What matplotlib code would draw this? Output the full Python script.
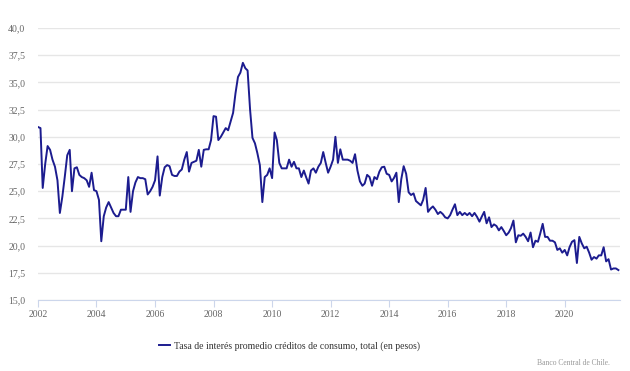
import matplotlib
matplotlib.use('Agg')
import matplotlib.pyplot as plt
import matplotlib.dates as mdates
from matplotlib.ticker import FuncFormatter
import pandas as pd

# valores mensuales, por año (ene..dic)
y2002 = [30.9, 30.8, 25.3, 27.5, 29.15, 28.8, 27.9, 27.25, 26.0, 23.0, 24.5, 26.3]
y2003 = [28.3, 28.8, 25.0, 27.1, 27.2, 26.5, 26.3, 26.2, 26.0, 25.4, 26.7, 25.1]
y2004 = [25.0, 24.2, 20.4, 22.7, 23.5, 24.0, 23.5, 23.0, 22.7, 22.7, 23.3, 23.3]
y2005 = [23.3, 26.3, 23.1, 25.0, 25.8, 26.3, 26.2, 26.2, 26.1, 24.7, 25.0, 25.4]
y2006 = [26.0, 28.2, 24.6, 26.3, 27.2, 27.4, 27.3, 26.5, 26.4, 26.4, 26.8, 27.0]
y2007 = [27.9, 28.6, 26.8, 27.6, 27.7, 27.8, 28.8, 27.25, 28.8, 28.85, 28.85, 29.7]
y2008 = [31.9, 31.85, 29.7, 30.0, 30.4, 30.8, 30.6, 31.4, 32.2, 34.0, 35.5, 35.9]
y2009 = [36.8, 36.3, 36.1, 32.5, 29.9, 29.4, 28.5, 27.4, 24.0, 26.3, 26.5, 27.1]
y2010 = [26.2, 30.4, 29.7, 27.6, 27.1, 27.1, 27.1, 27.9, 27.25, 27.7, 27.1, 27.1]
y2011 = [26.3, 26.9, 26.3, 25.7, 26.9, 27.1, 26.7, 27.25, 27.6, 28.6, 27.6, 26.7]
y2012 = [27.25, 27.9, 30.0, 27.6, 28.85, 27.9, 27.9, 27.9, 27.8, 27.6, 28.4, 26.9]
y2013 = [25.9, 25.5, 25.7, 26.5, 26.3, 25.5, 26.3, 26.1, 26.8, 27.2, 27.25, 26.6]
y2014 = [26.5, 25.9, 26.2, 26.7, 24.0, 26.1, 27.3, 26.6, 24.9, 24.65, 24.8, 24.1]
y2015 = [23.9, 23.7, 24.2, 25.3, 23.1, 23.4, 23.6, 23.3, 22.9, 23.1, 22.9, 22.6]
y2016 = [22.5, 22.8, 23.3, 23.8, 22.8, 23.1, 22.8, 23.0, 22.8, 23.0, 22.7, 23.0]
y2017 = [22.65, 22.2, 22.65, 23.1, 22.05, 22.6, 21.7, 21.95, 21.8, 21.4, 21.7, 21.35]
y2018 = [20.95, 21.2, 21.6, 22.3, 20.3, 20.95, 20.9, 21.1, 20.8, 20.4, 21.2, 19.85]
y2019 = [20.45, 20.35, 21.1, 22.0, 20.8, 20.8, 20.45, 20.45, 20.3, 19.6, 19.75, 19.35]
y2020 = [19.6, 19.1, 19.85, 20.35, 20.5, 18.4, 20.8, 20.2, 19.75, 19.9, 19.35, 18.7]
y2021 = [18.95, 18.8, 19.1, 19.1, 19.85, 18.55, 18.75, 17.8, 17.9, 17.9, 17.75]

tasa = (y2002 + y2003 + y2004 + y2005 + y2006 + y2007 + y2008 + y2009 + y2010
        + y2011 + y2012 + y2013 + y2014 + y2015 + y2016 + y2017 + y2018 + y2019
        + y2020 + y2021)
fechas = pd.date_range("2002-01-01", periods=len(tasa), freq="MS")

serie_label = "Tasa de interés promedio créditos de consumo, total (en pesos)"
credito = "Banco Central de Chile."

plt.rcParams['font.family'] = ['Liberation Serif', 'DejaVu Serif']

fig = plt.figure(figsize=(6.3, 3.71), dpi=100)
ax = fig.add_axes([0.0603, 0.1914, 0.9237, 0.7331])

linea, = ax.plot(fechas, tasa, color='#1c1c8f', linewidth=1.4, label=serie_label)

ax.set_ylim(15, 40)
ax.set_yticks([15, 17.5, 20, 22.5, 25, 27.5, 30, 32.5, 35, 37.5, 40])
ax.yaxis.set_major_formatter(FuncFormatter(lambda v, p: f"{v:.1f}".replace('.', ',')))
ax.set_xlim(pd.Timestamp("2002-01-01"), pd.Timestamp("2021-11-20"))
ax.xaxis.set_major_locator(mdates.YearLocator(2))
ax.xaxis.set_major_formatter(mdates.DateFormatter('%Y'))

ax.grid(axis='y', color='#e6e6e6', linewidth=1)
ax.set_axisbelow(True)
for s in ['top', 'right', 'left']:
    ax.spines[s].set_visible(False)
ax.spines['bottom'].set_color('#ccd6eb')
ax.tick_params(axis='y', length=0, pad=9, labelsize=7, labelcolor='#666666')
ax.tick_params(axis='x', length=5, color='#ccd6eb', pad=2, labelsize=7, labelcolor='#666666')

fig.legend(handles=[linea], loc='center left', bbox_to_anchor=(0.238, 0.067),
           frameon=False, fontsize=7, handlelength=1.2, handletextpad=0.4,
           labelcolor='#333333')
fig.text(0.968, 0.022, credito, ha='right', va='center', fontsize=5.5, color='#999999')

fig.savefig('out.png', dpi=100)
